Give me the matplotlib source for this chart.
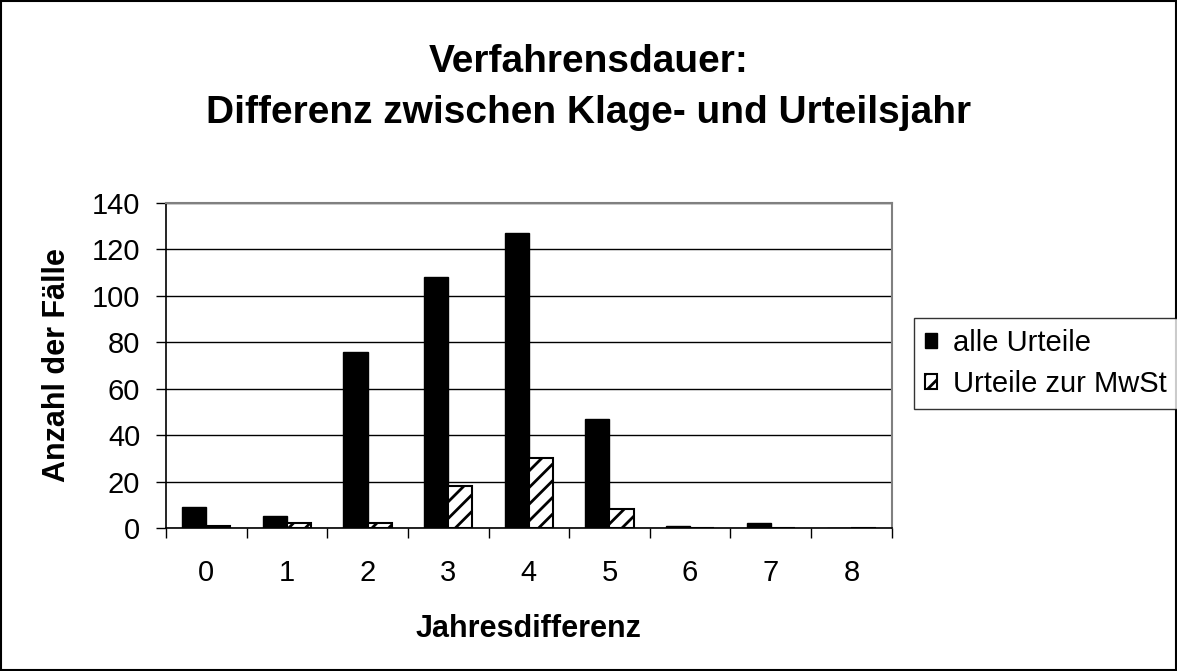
import numpy as np
import matplotlib.pyplot as plt
from matplotlib.patches import Rectangle

plt.rcParams['font.family'] = ['Liberation Sans', 'DejaVu Sans']
plt.rcParams['hatch.linewidth'] = 2.0

# Daten
jahre = ['0', '1', '2', '3', '4', '5', '6', '7', '8']
alle_urteile = [9, 5, 76, 108, 127, 47, 1, 2, 0]
urteile_mwst = [1, 2, 2, 18, 30, 8, 0, 0, 0]

fig = plt.figure(figsize=(11.77, 6.71), dpi=100)
ax = fig.add_axes([0.141, 0.2131, 0.6166, 0.4844])

x = np.arange(len(jahre))
w = 0.3
ax.bar(x - w/2, alle_urteile, w, color='black', edgecolor='black', linewidth=1,
       label='alle Urteile', zorder=3)
ax.bar(x + w/2, urteile_mwst, w, color='white', edgecolor='black', hatch='//',
       linewidth=1.5, label='Urteile zur MwSt', zorder=3)

ax.set_xlim(-0.5, 8.5)
ax.set_ylim(0, 140)
ax.set_yticks(range(0, 141, 20))
ax.set_xticks(x)
ax.set_xticklabels(jahre)
ax.set_xticks(np.arange(-0.5, 9, 1), minor=True)
ax.tick_params(axis='x', which='major', length=0, pad=22, labelsize=21)
ax.tick_params(axis='x', which='minor', length=7.5, width=1, direction='out')
ax.tick_params(axis='y', length=7.5, width=1, labelsize=21, pad=11)

ax.yaxis.grid(True, color='black', linewidth=1, zorder=0)
ax.set_axisbelow(True)
for s in ['top', 'right']:
    ax.spines[s].set_color('#808080')
    ax.spines[s].set_linewidth(1.5)
for s in ['left', 'bottom']:
    ax.spines[s].set_color('black')
    ax.spines[s].set_linewidth(1.2)

ax.set_xlabel('Jahresdifferenz', fontsize=22, fontweight='bold', labelpad=20)
ax.set_ylabel('Anzahl der Fälle', fontsize=22, fontweight='bold', labelpad=14)

fig.text(0.5, 1 - 72/671, 'Verfahrensdauer:', ha='center', va='baseline',
         fontsize=28, fontweight='bold')
fig.text(0.5, 1 - 123/671, 'Differenz zwischen Klage- und Urteilsjahr', ha='center',
         va='baseline', fontsize=28, fontweight='bold')

leg = fig.legend(loc='upper left', bbox_to_anchor=(914/1177, 1 - 318/671), fontsize=21,
                 frameon=True, fancybox=False, handlelength=0.4, handleheight=0.4,
                 handletextpad=0.55, borderpad=0.38, labelspacing=0.45,
                 borderaxespad=0)
leg.get_frame().set_edgecolor('black')
leg.get_frame().set_linewidth(1)

fig.patches.append(Rectangle((0.001, 0.001), 0.998, 0.997, transform=fig.transFigure,
                             fill=False, edgecolor='black', linewidth=1.5))

fig.savefig('out.png', dpi=100)
